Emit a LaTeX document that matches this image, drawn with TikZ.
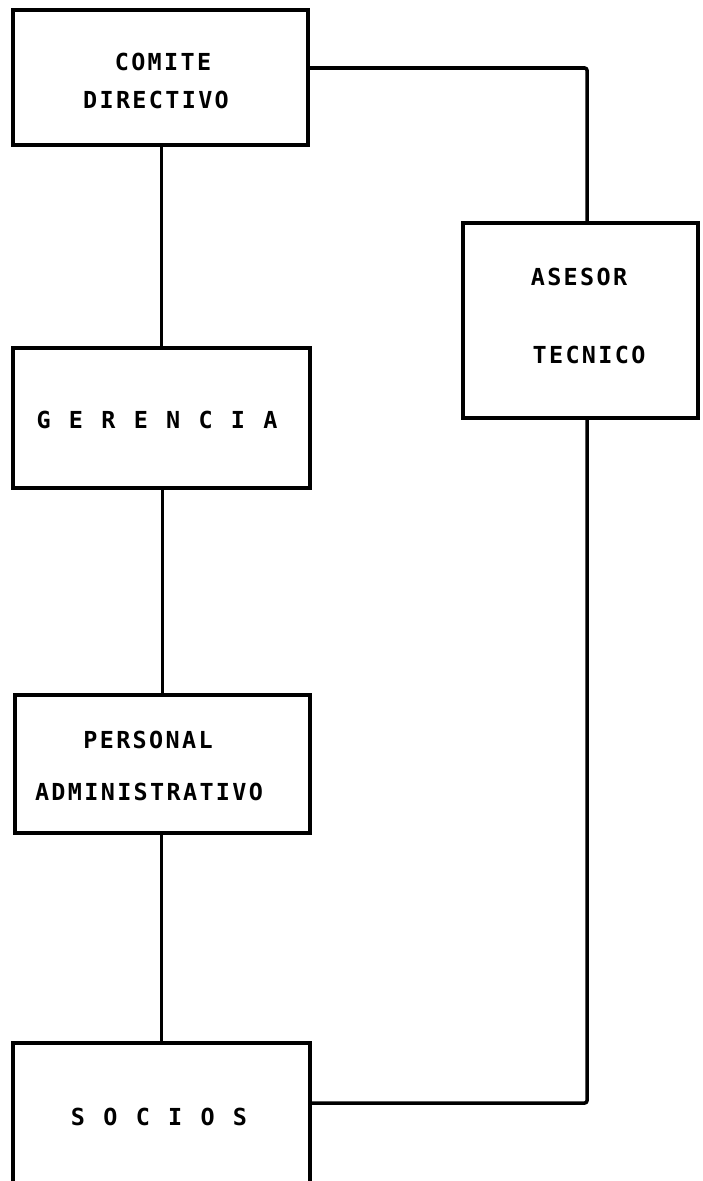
\documentclass[tikz,border=0pt]{standalone}
\usepackage{fontspec}
\newfontfamily\tw[LetterSpace=10]{DejaVu Sans Mono Bold}
\newcommand\gap{\hspace{15.6pt}}
\begin{document}
\begin{tikzpicture}[x=0.03cm,y=-0.03cm,
  box/.style={draw,line width=3pt,inner sep=0pt},
  lbl/.style={inner sep=0pt,font=\tw\fontsize{20}{32}\selectfont,align=center},
  conn/.style={line width=3pt,rounded corners=2pt}]
\clip (0,0) rectangle (702,1181);
\fill[white] (0,0) rectangle (702,1181);
% boxes
\node[box,minimum width={295*0.03cm},minimum height={135*0.03cm}] (b1) at (160.5,77.5) {};
\node[box,minimum width={297*0.03cm},minimum height={140*0.03cm}] (b2) at (161.5,418) {};
\node[box,minimum width={295*0.03cm},minimum height={138*0.03cm}] (b3) at (162.5,764) {};
\node[box,minimum width={297*0.03cm},minimum height={148*0.03cm}] (b4) at (161.5,1117) {};
\node[box,minimum width={235*0.03cm},minimum height={195*0.03cm}] (as) at (580.5,320.5) {};
% texts
\node[lbl] (t1a) at (163,62) {COMITE};
\node[lbl] (t1b) at (156,100) {DIRECTIVO};
\node[lbl] (t2) at (157,420) {G\gap E\gap R\gap E\gap N\gap C\gap I\gap A};
\node[lbl] (t3a) at (148,740) {PERSONAL};
\node[lbl] (t3b) at (149,792) {ADMINISTRATIVO};
\node[lbl] (t4) at (159,1117) {S\gap O\gap C\gap I\gap O\gap S};
\node[lbl] (t5a) at (579,277) {ASESOR};
\node[lbl] (t5b) at (589,355) {TECNICO};
% connectors
\draw[conn] (b2.north) -- (b2.north |- b1.south);
\draw[conn] (b3.north) -- (b3.north |- b2.south);
\draw[conn] (b4.north) -- (b4.north |- b3.south);
\coordinate (atop) at ([xshift=0.195cm]as.north);
\coordinate (abot) at ([xshift=0.195cm]as.south);
\draw[conn] ([yshift=0.285cm]b1.east) -| (atop);
\draw[conn] (abot) |- ([yshift=0.42cm]b4.east);
\end{tikzpicture}
\end{document}
